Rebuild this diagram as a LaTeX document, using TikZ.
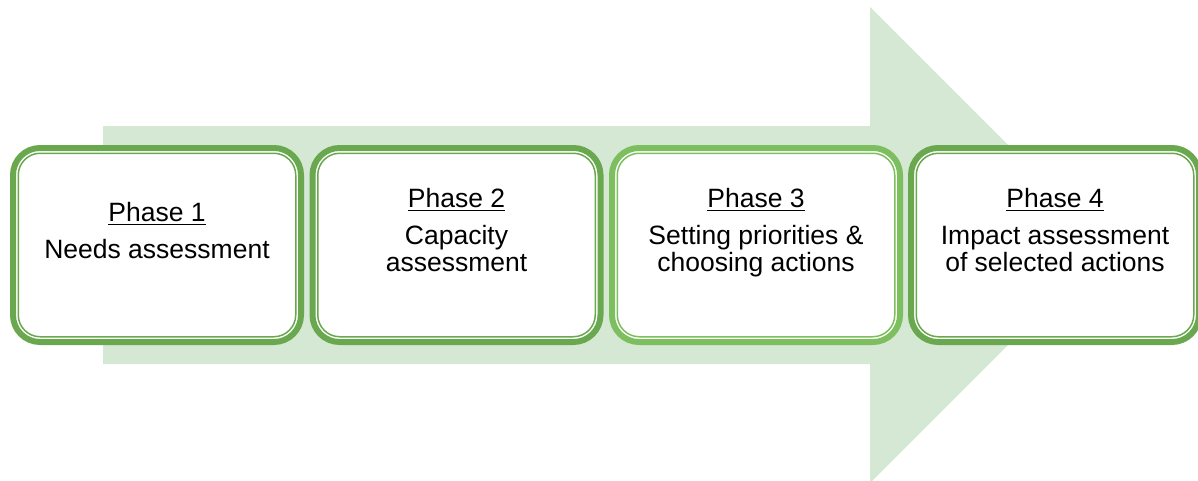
\documentclass[tikz,border=0pt]{standalone}
\usepackage{fontspec}
\setmainfont{Liberation Sans}
\definecolor{arrowgreen}{HTML}{D5E8D4}
\definecolor{darkgreen}{HTML}{6AA84F}
\definecolor{lightgreen}{HTML}{7DBE5F}
\begin{document}
\begin{tikzpicture}[x=0.5pt, y=-0.5pt,
  phase/.style={draw=#1, line width=3pt, fill=white, rounded corners=13.5pt,
    minimum width=144pt, minimum height=97pt, inner sep=0pt},
  phaseline/.style={draw=#1, line width=0.75pt, rounded corners=11pt,
    minimum width=138.75pt, minimum height=91.75pt, inner sep=0pt},
  phasetext/.style={align=center, font=\fontsize{13.25}{13.5}\selectfont, text depth=0pt}]
  \useasboundingbox (0,0) rectangle (1198,481);
  % big arrow behind the phases
  \fill[arrowgreen] (103,126) -- (870,126) -- (870,7) -- (1108,245)
    -- (870,483) -- (870,364) -- (103,364) -- cycle;
  % phases
  \node[phase=darkgreen] (p1) at (157,245) {};
  \node[phaseline=darkgreen] (p1in) at (p1) {};
  \node[phasetext] (t1) at ([yshift=7.5pt]p1.center) {\underline{Phase 1}\\[5pt]Needs assessment};
  \node[phase=darkgreen] (p2) at (456.5,245) {};
  \node[phaseline=darkgreen] (p2in) at (p2) {};
  \node[phasetext] (t2) at ([yshift=7.5pt]p2.center) {\underline{Phase 2}\\[5pt]Capacity\\assessment};
  \node[phase=lightgreen] (p3) at (756,245) {};
  \node[phaseline=lightgreen] (p3in) at (p3) {};
  \node[phasetext] (t3) at ([yshift=7.5pt]p3.center) {\underline{Phase 3}\\[5pt]Setting priorities \&\\choosing actions};
  \node[phase=darkgreen] (p4) at (1055,245) {};
  \node[phaseline=darkgreen] (p4in) at (p4) {};
  \node[phasetext] (t4) at ([yshift=7.5pt]p4.center) {\underline{Phase 4}\\[5pt]Impact assessment\\of selected actions};
\end{tikzpicture}
\end{document}
